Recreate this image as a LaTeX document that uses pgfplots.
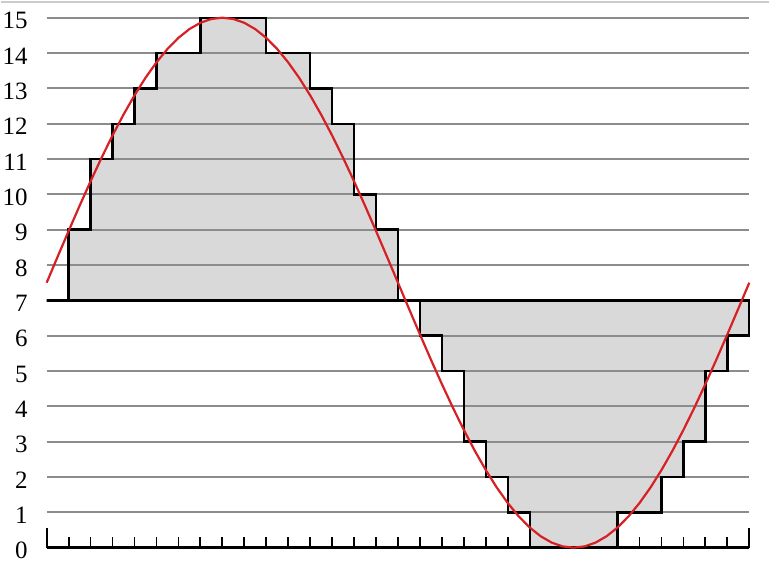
\documentclass[border=0pt]{standalone}
\usepackage{fontspec}
\setmainfont{Liberation Serif}
\usepackage{pgfplots}
\usepackage{pgfplotstable}
\pgfplotsset{compat=1.18}
\definecolor{sinered}{RGB}{214,32,36}
\definecolor{fillgray}{RGB}{217,217,217}
\definecolor{gridgray}{RGB}{140,140,140}
\pgfplotstableread{
x y
0 7
1 9
2 11
3 12
4 13
5 14
6 14
7 15
8 15
9 15
10 14
11 14
12 13
13 12
14 10
15 9
16 7
17 6
18 5
19 3
20 2
21 1
22 0
23 0
24 0
25 0
26 1
27 1
28 2
29 3
30 5
31 6
32 7
}\stair
\begin{document}
\begin{tikzpicture}
\begin{axis}[
  scale only axis, width=704pt, height=531pt,
  xmin=0, xmax=32, ymin=0, ymax=15,
  axis x line*=bottom, axis y line*=left,
  y axis line style={draw=none},
  x axis line style={line width=2.5pt, black, -},
  ytick={0,...,15}, ytick style={draw=none},
  xtick={1,...,31}, xticklabels={},
  tick align=inside, major tick length=11pt,
  xtick style={line width=1.8pt, black},
  extra x ticks={0,32}, extra x tick labels={},
  extra x tick style={major tick length=20pt, xtick style={line width=1.8pt, black}},
  tick label style={font=\fontsize{25}{30}\selectfont},
  yticklabel style={inner sep=0pt, anchor=east, xshift=-19pt, yshift=-3pt},
  /pgf/number format/assume math mode=true,
  clip=false,
]
\addplot[const plot, fill=fillgray, draw=none, forget plot] table {\stair} -- cycle;
\pgfplotsinvokeforeach{1,...,15}{
  \draw[gridgray, line width=2.2pt] (axis cs:0,#1) -- (axis cs:32,#1);
}
\addplot[const plot, draw=black, line width=2.4pt, line join=miter, fill=none, forget plot] table {\stair} -- cycle;
\addplot[sinered, line width=2.2pt, mark=none] coordinates {
(0,7.5) (0.5,8.235) (1,8.963) (1.5,9.677) (2,10.370) (2.5,11.036) (3,11.667) (3.5,12.258)
(4,12.803) (4.5,13.298) (5,13.736) (5.5,14.114) (6,14.429) (6.5,14.677) (7,14.856) (7.5,14.964)
(8,15) (8.5,14.964) (9,14.856) (9.5,14.677) (10,14.429) (10.5,14.114) (11,13.736) (11.5,13.298)
(12,12.803) (12.5,12.258) (13,11.667) (13.5,11.036) (14,10.370) (14.5,9.677) (15,8.963) (15.5,8.235)
(16,7.5) (16.5,6.765) (17,6.037) (17.5,5.323) (18,4.630) (18.5,3.964) (19,3.333) (19.5,2.742)
(20,2.197) (20.5,1.702) (21,1.264) (21.5,0.886) (22,0.571) (22.5,0.323) (23,0.144) (23.5,0.036)
(24,0) (24.5,0.036) (25,0.144) (25.5,0.323) (26,0.571) (26.5,0.886) (27,1.264) (27.5,1.702)
(28,2.197) (28.5,2.742) (29,3.333) (29.5,3.964) (30,4.630) (30.5,5.323) (31,6.037) (31.5,6.765)
(32,7.5)
};
\coordinate (SW) at (rel axis cs:0,0);
\coordinate (NE) at (rel axis cs:1,1);
\end{axis}
\path (SW) ++(-46pt,-29pt) coordinate (P1);
\path (NE) ++(20pt,17pt) coordinate (P2);
\path (P1) rectangle (P2);
\draw[black!20, line width=1.5pt] (P1 |- P2) ++(0,-1.5pt) -- ([yshift=-1.5pt]P2);
\end{tikzpicture}
\end{document}
